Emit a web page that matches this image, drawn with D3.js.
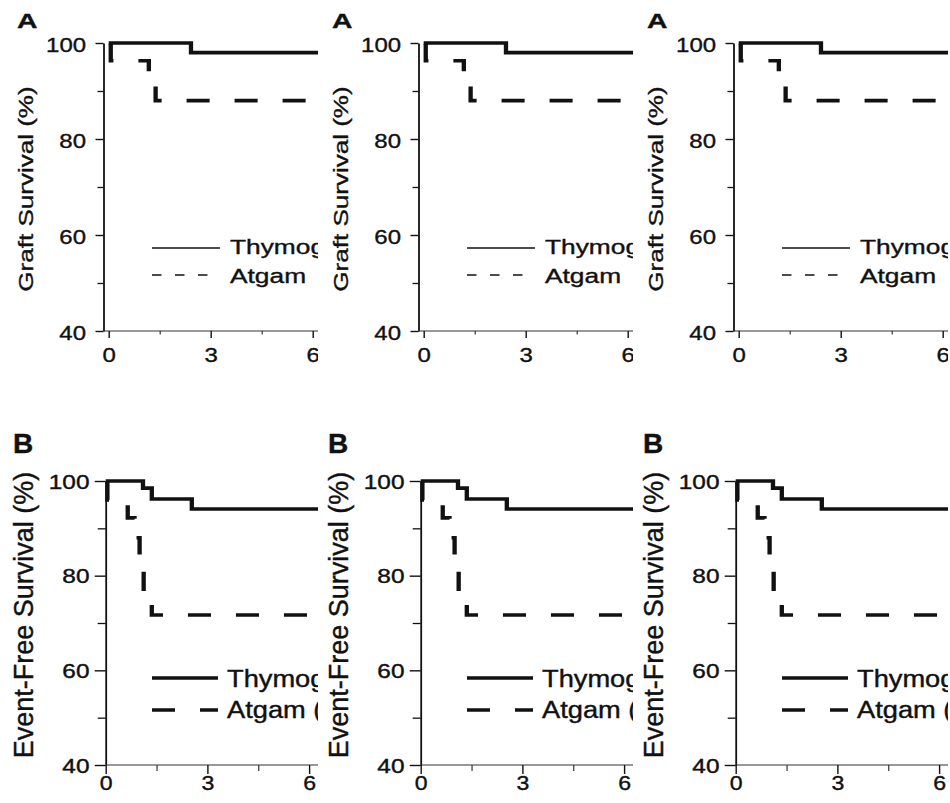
<!DOCTYPE html>
<html><head><meta charset="utf-8">
<script src="https://cdn.jsdelivr.net/npm/d3@7/dist/d3.min.js"></script>
<style>
html,body{margin:0;padding:0;background:#fff;}
svg{display:block;font-family:"Liberation Sans",Arial,Helvetica,sans-serif;}
</style></head><body>
<svg id="chart" width="950" height="803"></svg>
<script>
// ---------- data ----------
const monthTicks = [0, 3, 6];
const monthMinorTicks = [1.5, 4.5];
const monthDomain = [0, 12];
const survivalTicks = [40, 60, 80, 100];
const survivalMinorTicks = [50, 70, 90];
const graftSeriesNames = ["Thymoglobulin", "Atgam"];
const efsSeriesNames = ["Thymoglobulin (n=48)", "Atgam (n=24)"];
const panelLetters = ["A", "B"];
const yTitles = ["Graft Survival (%)", "Event-Free Survival (%)"];

const graftThymoMonths   = [0, 2.42, 12];
const graftThymoSurvival = [100, 98.0, 98.0];
const graftAtgamMonths   = [0, 0.06, 1.18, 1.38, 12];
const graftAtgamSurvival = [100, 96.3, 92.2, 88.0, 88.0];

const efsThymoMonths   = [0, 1.1, 1.36, 2.54, 12];
const efsThymoSurvival = [100, 98.5, 96.2, 94.1, 94.1];
const efsAtgamMonths   = [0, 0.05, 0.65, 0.85, 1.0, 1.12, 1.36, 12];
const efsAtgamSurvival = [100, 96.0, 92.2, 88.0, 84.0, 76.0, 71.7, 71.7];

const zip = (ms, ss) => ms.map((t, i) => ({t: t, s: ss[i]}));

// ---------- layout ----------
const colOffsets = [0, 315, 630];
const panelW = 318;
const rowsCfg = [
  { letter: panelLetters[0], title: yTitles[0], names: graftSeriesNames,
    thymo: zip(graftThymoMonths, graftThymoSurvival), atgam: zip(graftAtgamMonths, graftAtgamSurvival),
    clipTop: 0, clipH: 400,
    x0: 108.7, ppm: 34, yTop: 43, yBot: 331, axisX: 103.5, xAxisY: 331,
    yTick: 8, yMinor: 6, yPad: 6.2, yDy: "0.44em", xTick: 7, xMinor: 3.5, xPad: 10,
    tickFont: 19.5, tickScale: 1.23, xTickFont: 19.5, xTickScale: 1.23,
    letterPos: [17, 28], letterSize: 21, letterScale: 1.35,
    titlePos: [33, 189], titleSize: 21, titleScale: 1.24,
    leg: { x1: 152, x2: 220, tx: 230, y1: 248, y2: 275, b1: 254, b2: 283, size: 19.5, scale: 1.35, lw: 1.3, dash: "9.5 13.5" },
    textStroke: 0.35 },
  { letter: panelLetters[1], title: yTitles[1], names: efsSeriesNames,
    thymo: zip(efsThymoMonths, efsThymoSurvival), atgam: zip(efsAtgamMonths, efsAtgamSurvival),
    clipTop: 400, clipH: 403,
    x0: 105.7, ppm: 33.9, yTop: 481, yBot: 765, axisX: 105.7, xAxisY: 765,
    yTick: 11, yMinor: 8, yPad: 2, yDy: "0.36em", xTick: 9, xMinor: 6, xPad: 1,
    tickFont: 19.5, tickScale: 1.25, xTickFont: 21, xTickScale: 1.1,
    letterPos: [13, 453], letterSize: 28, letterScale: 1,
    titlePos: [32.5, 615], titleSize: 27, titleScale: 1,
    leg: { x1: 152, x2: 218, tx: 227, y1: 678, y2: 710, b1: 687, b2: 718, size: 23.5, scale: 1.16, lw: 3.6, dash: "23 25" },
    textStroke: 0.4 }
];

const curveScaleX = 1.2;
const curveW = 3.6;
const ink = "#111";

const svg = d3.select("#chart");
const defs = svg.append("defs");

function styleText(sel, size, R) {
  sel.attr("font-size", size).attr("fill", ink)
     .attr("font-family", '"Liberation Sans",Arial,sans-serif')
     .attr("stroke", R.textStroke ? ink : null)
     .attr("stroke-width", R.textStroke || null);
}

function drawPanel(g, R) {
  const x = d3.scaleLinear().domain(monthDomain).range([R.x0, R.x0 + (monthDomain[1] - monthDomain[0]) * R.ppm]);
  const y = d3.scaleLinear().domain([40, 100]).range([R.yBot, R.yTop]);

  // y axis
  const ya = g.append("g").attr("transform", `translate(${R.axisX},0)`)
    .call(d3.axisLeft(y).tickValues(survivalTicks).tickSize(R.yTick).tickSizeOuter(0).tickPadding(R.yPad));
  ya.attr("font-size", null).attr("font-family", null);
  ya.select(".domain").attr("stroke", ink).attr("stroke-width", 1.8);
  ya.selectAll(".tick line").attr("stroke", ink).attr("stroke-width", 1.4);
  ya.selectAll(".tick text").attr("dy", R.yDy).attr("transform", `scale(${R.tickScale},1)`)
    .call(s => styleText(s, R.tickFont, R));
  const yam = g.append("g").attr("transform", `translate(${R.axisX},0)`)
    .call(d3.axisLeft(y).tickValues(survivalMinorTicks).tickSize(R.yMinor).tickFormat(""));
  yam.select(".domain").remove();
  yam.selectAll(".tick line").attr("stroke", ink).attr("stroke-width", 1.3);

  // x axis
  g.append("line").attr("x1", R.axisX).attr("x2", x(monthDomain[1])).attr("y1", R.xAxisY).attr("y2", R.xAxisY)
    .attr("stroke", "#333").attr("stroke-width", 1.2);
  const xa = g.append("g").attr("transform", `translate(0,${R.xAxisY})`)
    .call(d3.axisBottom(x).tickValues(monthTicks).tickSize(R.xTick).tickPadding(R.xPad));
  xa.attr("font-size", null).attr("font-family", null);
  xa.select(".domain").remove();
  xa.selectAll(".tick line").attr("stroke", ink).attr("stroke-width", 1.4);
  xa.selectAll(".tick text").attr("transform", `scale(${R.xTickScale},1)`)
    .call(s => styleText(s, R.xTickFont, R));
  const xam = g.append("g").attr("transform", `translate(0,${R.xAxisY})`)
    .call(d3.axisBottom(x).tickValues(monthMinorTicks).tickSize(R.xMinor).tickFormat(""));
  xam.select(".domain").remove();
  xam.selectAll(".tick line").attr("stroke", "#333").attr("stroke-width", 1.2);

  // curves (drawn in a horizontally stretched frame, as in the source figure)
  const xi = d3.scaleLinear().domain(x.domain()).range(x.range().map(v => v / curveScaleX));
  const line = d3.line().x(d => xi(d.t)).y(d => y(d.s)).curve(d3.curveStepAfter);
  const cg = g.append("g").attr("transform", `scale(${curveScaleX},1)`);
  cg.append("path").datum(R.atgam).attr("d", line).attr("fill", "none")
    .attr("stroke", ink).attr("stroke-width", curveW)
    .attr("stroke-dasharray", "19.2 20.8").attr("stroke-dashoffset", 37.5);
  cg.append("path").datum(R.thymo).attr("d", line).attr("fill", "none")
    .attr("stroke", ink).attr("stroke-width", curveW).attr("stroke-linejoin", "miter");

  // legend
  const L = R.leg;
  g.append("line").attr("x1", L.x1).attr("x2", L.x2).attr("y1", L.y1).attr("y2", L.y1)
    .attr("stroke", ink).attr("stroke-width", L.lw);
  g.append("line").attr("x1", L.x1).attr("x2", L.x2).attr("y1", L.y2).attr("y2", L.y2)
    .attr("stroke", ink).attr("stroke-width", L.lw).attr("stroke-dasharray", L.dash);
  [[R.names[0], L.b1], [R.names[1], L.b2]].forEach(([txt, b]) => {
    g.append("text").attr("transform", `translate(${L.tx},${b}) scale(${L.scale},1)`)
      .text(txt).call(s => styleText(s, L.size, R));
  });

  // panel letter
  g.append("text").attr("transform", `translate(${R.letterPos[0]},${R.letterPos[1]}) scale(${R.letterScale},1)`)
    .attr("font-weight", "bold").text(R.letter)
    .call(s => styleText(s, R.letterSize, R));

  // y title
  g.append("text")
    .attr("transform", `translate(${R.titlePos[0]},${R.titlePos[1]}) rotate(-90) scale(${R.titleScale},1)`)
    .attr("text-anchor", "middle").text(R.title)
    .call(s => styleText(s, R.titleSize, R));
}

rowsCfg.forEach((R, ri) => {
  colOffsets.forEach((cx, ci) => {
    const id = `clip-${ri}-${ci}`;
    defs.append("clipPath").attr("id", id).append("rect")
      .attr("x", 0).attr("y", R.clipTop).attr("width", panelW).attr("height", R.clipH);
    const g = svg.append("g").attr("transform", `translate(${cx},0)`).attr("clip-path", `url(#${id})`);
    drawPanel(g, R);
  });
});
</script>
</body></html>
